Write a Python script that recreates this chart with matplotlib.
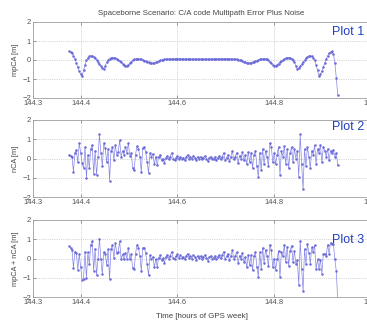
import numpy as np
import matplotlib
matplotlib.use("Agg")
import matplotlib.pyplot as plt

plt.rcParams['font.family'] = ['Liberation Sans', 'DejaVu Sans']

t_start = 144.375
t_end = 144.933

mp_ca = [
    0.45, 0.42, 0.35, 0.22, 0.05, -0.15, -0.38, -0.58, -0.76, -0.85,
    -0.55, -0.25, -0.02, 0.12, 0.19, 0.22, 0.21, 0.17, 0.10, 0.00,
    -0.10, -0.22, -0.33, -0.42, -0.46, -0.30, -0.12, 0.00, 0.07, 0.11,
    0.12, 0.12, 0.10, 0.06, 0.01, -0.05, -0.12, -0.19, -0.25, -0.29,
    -0.30, -0.26, -0.17, -0.08, -0.01, 0.03, 0.05, 0.06, 0.06, 0.05,
    0.03, 0.00, -0.03, -0.06, -0.09, -0.12, -0.14, -0.15, -0.16, -0.16,
    -0.13, -0.09, -0.05, -0.02, 0.00, 0.02, 0.03, 0.04, 0.04, 0.05,
    0.05, 0.05, 0.05, 0.06, 0.06, 0.06, 0.06, 0.06, 0.05, 0.05,
    0.05, 0.05, 0.05, 0.05, 0.04, 0.04, 0.04, 0.04, 0.04, 0.04,
    0.04, 0.04, 0.04, 0.04, 0.04, 0.04, 0.04, 0.04, 0.04, 0.05,
    0.05, 0.05, 0.05, 0.05, 0.05, 0.06, 0.06, 0.06, 0.06, 0.06,
    0.05, 0.05, 0.05, 0.04, 0.04, 0.04, 0.03, 0.02, 0.00, -0.02,
    -0.05, -0.09, -0.13, -0.16, -0.16, -0.15, -0.14, -0.12, -0.09, -0.06,
    -0.03, 0.00, 0.03, 0.05, 0.06, 0.06, 0.05, 0.03, -0.01, -0.08,
    -0.17, -0.26, -0.30, -0.29, -0.25, -0.19, -0.12, -0.05, 0.01, 0.06,
    0.10, 0.12, 0.12, 0.11, 0.07, 0.00, -0.12, -0.30, -0.46, -0.42,
    -0.33, -0.22, -0.10, 0.00, 0.10, 0.17, 0.21, 0.22, 0.19, 0.12,
    -0.02, -0.25, -0.55, -0.85, -0.76, -0.58, -0.38, -0.15, 0.05, 0.22,
    0.35, 0.42, 0.45, 0.30, -0.15, -0.95, -1.85,
]

n_ca = [
    0.20, 0.15, 0.10, -0.70, 0.30, 0.45, -0.20, 0.80, 0.30, -0.25,
    -0.50, 0.60, -1.00, 0.20, -0.50, 0.50, 0.70, -0.80, 0.40, -0.85,
    0.10, 1.25, 0.30, -0.40, 0.80, 0.55, -0.20, 0.50, -1.15, 0.40,
    0.60, -0.10, 0.70, 0.20, 0.35, 0.95, 0.10, 0.40, 0.20, 0.60,
    0.30, 0.80, 0.15, 0.30, -0.50, -0.60, 0.20, 0.65, 0.50, 0.10,
    -0.70, 0.55, 0.60, 0.35, -0.20, -0.75, 0.30, 0.10, 0.25, -0.30,
    0.10, -0.35, 0.10, 0.20, -0.10, 0.00, -0.25, 0.05, 0.15, -0.05,
    0.10, 0.30, 0.00, -0.10, 0.05, 0.15, -0.05, 0.10, 0.00, 0.05,
    -0.10, 0.10, 0.20, 0.00, 0.10, -0.05, 0.15, 0.05, -0.10, 0.10,
    0.00, 0.10, -0.05, 0.05, 0.15, 0.00, -0.15, 0.05, 0.10, -0.05,
    0.00, 0.10, -0.10, 0.05, 0.15, -0.05, 0.10, 0.30, -0.10, 0.05,
    0.20, -0.15, 0.10, 0.40, -0.05, 0.10, 0.30, -0.25, 0.15, 0.00,
    0.35, -0.10, 0.20, -0.30, 0.35, -0.20, 0.30, -0.50, 0.20, 0.40,
    -0.40, -0.95, 0.30, -0.60, 0.50, -0.30, 0.40, 0.10, -0.40, 0.80,
    0.60, -0.20, 0.30, -0.30, 0.20, 0.60, -0.85, 0.40, 0.10, 0.65,
    -0.30, 0.50, -0.50, 0.30, 0.60, -0.20, 0.50, 0.00, 0.40, -0.95,
    1.25, -0.30, -1.60, 0.50, -0.40, 0.60, 0.10, -0.50, 0.40, 0.20,
    0.70, -0.30, 0.50, 0.30, 0.70, -0.20, 0.60, 0.40, 0.10, 0.50,
    -0.10, 0.40, 0.30, 0.45, 0.10, 0.30, -0.35,
]

x_ticks = [144.3, 144.4, 144.6, 144.8, 145]
x_tick_labels = ["144.3", "144.4", "144.6", "144.8", "145"]
y_ticks = [-2, -1, 0, 1, 2]
y_labels = ["mpCA [m]", "nCA [m]", "mpCA + nCA [m]"]
panel_names = ["Plot 1", "Plot 2", "Plot 3"]


def main():
    t = np.linspace(t_start, t_end, len(n_ca))
    mp = np.array(mp_ca)
    n = np.array(n_ca)
    series = [mp, n, mp + n]

    fig = plt.figure(figsize=(3.67, 3.25), dpi=100)
    W, H = 367.0, 325.0
    # pixel boxes (left, top, right, bottom)
    boxes = [(33, 22, 370, 98), (33, 120, 370, 197), (33, 220, 370, 297)]
    name_y = [32, 127, 240]

    for k, (l, tp, r, b) in enumerate(boxes):
        ax = fig.add_axes([l / W, 1 - b / H, (r - l) / W, (b - tp) / H])
        ax.plot(t, series[k], color="#8585e6", lw=0.5, marker=".",
                ms=1.6, mec="#6a6ad8", mfc="#6a6ad8")
        ax.set_xlim(144.3, 145)
        ax.set_ylim(-2, 2)
        ax.set_xticks(x_ticks)
        ax.set_xticklabels(x_tick_labels)
        ax.set_yticks(y_ticks)
        ax.grid(True, ls=":", lw=0.5, color="#b0b0b0")
        ax.tick_params(direction="in", length=2, width=0.4, labelsize=5.5,
                       colors="#555555", pad=1.5, top=True, right=True)
        for s in ax.spines.values():
            s.set_color("#a0a0a0")
            s.set_linewidth(0.6)
        ax.set_ylabel(y_labels[k], fontsize=5.3, color="#444444", labelpad=2)
        fig.text(364 / W, 1 - name_y[k] / H, panel_names[k], ha="right",
                 va="center", fontsize=9, color="#2040c0")
        if k == 0:
            ax.set_title("Spaceborne Scenario: C/A code Multipath Error Plus Noise",
                         fontsize=5.7, color="#444444", pad=5)
        if k == 2:
            ax.set_xlabel("Time [hours of GPS week]", fontsize=5.7,
                          color="#444444", labelpad=5)

    fig.savefig("out.png", dpi=100)


if __name__ == "__main__":
    main()
